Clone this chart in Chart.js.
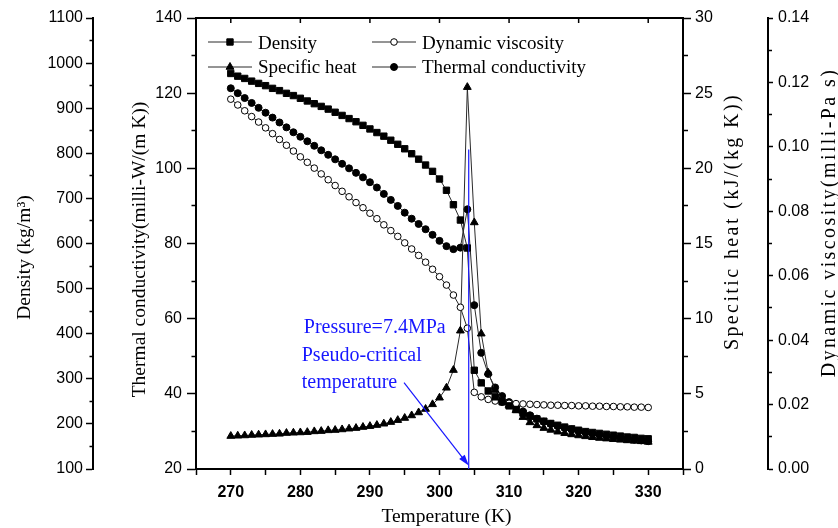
<!DOCTYPE html>
<html>
<head>
<meta charset="utf-8">
<script src="https://cdn.jsdelivr.net/npm/chart.js@4.4.1/dist/chart.umd.min.js"></script>
<style>
  html, body { margin: 0; padding: 0; background: #fff; }
  #wrap { width: 838px; height: 528px; }
</style>
</head>
<body>
<div id="wrap"><canvas id="chart" width="838" height="528"></canvas></div>
<script>
// CO2 at 7.4 MPa, one point per kelvin
const temperature = [
  270, 271, 272, 273, 274, 275, 276, 277, 278, 279,
  280, 281, 282, 283, 284, 285, 286, 287, 288, 289,
  290, 291, 292, 293, 294, 295, 296, 297, 298, 299,
  300, 301, 302, 303, 304, 305, 306, 307, 308, 309,
  310, 311, 312, 313, 314, 315, 316, 317, 318, 319,
  320, 321, 322, 323, 324, 325, 326, 327, 328, 329,
  330
];
// kg/m3
const density = [
  977, 971, 966, 960, 955, 950, 944, 939, 933, 928,
  922, 916, 910, 904, 898, 891, 884, 877, 870, 862,
  854, 846, 838, 829, 820, 810, 799, 787, 774, 760,
  743, 718, 686, 652, 590, 319, 291, 273, 260, 249,
  240, 232, 224, 217, 211, 206, 201, 197, 193, 189,
  186, 183, 181, 179, 177, 175, 173, 171, 170, 168,
  167
];
// milli-Pa s
const viscosity = [
  0.1148, 0.1130, 0.1112, 0.1094, 0.1077, 0.1059, 0.1041, 0.1023, 0.1005, 0.0987,
  0.0969, 0.0952, 0.0934, 0.0916, 0.0898, 0.0880, 0.0862, 0.0845, 0.0827, 0.0811,
  0.0794, 0.0777, 0.0758, 0.0740, 0.0722, 0.0702, 0.0683, 0.0663, 0.0642, 0.0620,
  0.0597, 0.0571, 0.0540, 0.0502, 0.0437, 0.0238, 0.0224, 0.0216, 0.0211, 0.0207,
  0.0204, 0.0203, 0.0202, 0.0201, 0.0200, 0.0199, 0.0198, 0.0198, 0.0197, 0.0197,
  0.0196, 0.0196, 0.0195, 0.0195, 0.0194, 0.0194, 0.0193, 0.0193, 0.0192, 0.0192,
  0.0191
];
// kJ/(kg K)
const specificHeat = [
  2.19, 2.21, 2.23, 2.26, 2.28, 2.30, 2.32, 2.34, 2.39, 2.41,
  2.43, 2.45, 2.50, 2.52, 2.57, 2.59, 2.63, 2.68, 2.72, 2.79,
  2.85, 2.92, 3.01, 3.12, 3.25, 3.39, 3.56, 3.76, 3.99, 4.30,
  4.74, 5.40, 6.58, 9.20, 25.4, 16.4, 9.00, 6.40, 5.25, 4.60,
  4.25, 3.90, 3.45, 3.10, 2.90, 2.72, 2.60, 2.48, 2.38, 2.30,
  2.23, 2.17, 2.11, 2.06, 2.02, 1.98, 1.94, 1.90, 1.87, 1.84,
  1.80
];
// milli-W/(m K)
const conductivity = [
  121.3, 120.0, 118.7, 117.4, 116.1, 114.8, 113.5, 112.2, 110.9, 109.6,
  108.4, 107.2, 106.0, 104.8, 103.6, 102.4, 101.2, 100.0, 98.8, 97.6,
  96.3, 94.9, 93.2, 91.6, 90.0, 88.2, 86.6, 85.2, 83.8, 82.3,
  80.7, 79.3, 78.5, 78.9, 89.1, 63.6, 50.9, 45.3, 41.7, 39.4,
  37.8, 36.5, 35.3, 34.3, 33.4, 32.6, 32.0, 31.4, 30.9, 30.5,
  30.1, 29.7, 29.4, 29.1, 28.8, 28.5, 28.3, 28.0, 27.8, 27.6,
  27.4
];

const topTicks = [270, 280, 290, 300, 310, 320, 330];
const pseudoCritical = 304.2;   // K
const markTop = 105;            // top of blue line, on conductivity scale
const arrowFrom = [294.9, 43.0];
const arrowTo = [304.2, 20.9];
const noteLines = [
  { text: 'Pressure=7.4MPa', x: 280.5, y: 56.2 },
  { text: 'Pseudo-critical', x: 280.2, y: 48.7 },
  { text: 'temperature', x: 280.2, y: 41.5 }
];

const SANS = "'Liberation Sans', Arial, sans-serif";
const SERIF = "'Liberation Serif', 'Times New Roman', serif";
const BLUE = '#1717ff';

function yScale(pos, weight, min, max, step, isMajor, fmt, tl, minorLen, pad, width) {
  return {
    type: 'linear', position: pos, weight: weight, min: min, max: max,
    ticks: {
      stepSize: step, autoSkip: false, color: '#000', padding: pad,
      font: { family: SANS, size: 16 },
      callback: v => isMajor(v) ? fmt(v) : ''
    },
    grid: {
      drawOnChartArea: false, tickLength: tl, tickColor: '#000', tickWidth: 1.5,
      tickBorderDash: c => (!c.tick || isMajor(c.tick.value)) ? [] :
        (pos === 'left' ? [0, tl - minorLen, minorLen, 40] : [minorLen, 40])
    },
    border: { display: true, color: '#000', width: 2 },
    afterFit: s => { s.width = width; }
  };
}

function dataset(label, values, axis, style, radius, fill) {
  return {
    label: label,
    yAxisID: axis,
    data: temperature.map((t, i) => ({ x: t, y: values[i] })),
    borderColor: '#2a2a2a', borderWidth: 1, tension: 0,
    pointStyle: style, pointRadius: radius, pointHoverRadius: radius,
    pointBackgroundColor: fill, pointBorderColor: '#000', pointBorderWidth: 1
  };
}

function drawMarker(ctx, style, r, fill, x, y) {
  ctx.save();
  ctx.fillStyle = fill;
  ctx.strokeStyle = '#000';
  ctx.lineWidth = 1;
  ctx.beginPath();
  if (style === 'rect') {
    const s = r * Math.SQRT1_2;
    ctx.rect(x - s, y - s, 2 * s, 2 * s);
  } else if (style === 'triangle') {
    for (let k = 0; k < 3; k++) {
      const a = k * 2 * Math.PI / 3;
      const px = x + Math.sin(a) * r, py = y - Math.cos(a) * r;
      if (k === 0) ctx.moveTo(px, py); else ctx.lineTo(px, py);
    }
    ctx.closePath();
  } else {
    ctx.arc(x, y, r, 0, Math.PI * 2);
  }
  ctx.fill();
  ctx.stroke();
  ctx.restore();
}

function vText(ctx, text, x, y, size, spacing) {
  ctx.save();
  ctx.translate(x, y);
  ctx.rotate(-Math.PI / 2);
  ctx.font = size + 'px ' + SERIF;
  ctx.fillStyle = '#000';
  ctx.textAlign = 'center';
  ctx.textBaseline = 'middle';
  if (spacing) ctx.letterSpacing = spacing;
  ctx.fillText(text, 0, 0);
  ctx.restore();
}

const decor = {
  id: 'decor',
  afterDatasetsDraw(chart) {
    const ctx = chart.ctx, xs = chart.scales.x, ys = chart.scales.yTC;
    ctx.save();
    ctx.strokeStyle = BLUE;
    ctx.fillStyle = BLUE;
    ctx.lineWidth = 1.2;
    // pseudo-critical line
    const lx = xs.getPixelForValue(pseudoCritical);
    ctx.beginPath();
    ctx.moveTo(lx, ys.getPixelForValue(markTop));
    ctx.lineTo(lx, chart.chartArea.bottom);
    ctx.stroke();
    // arrow
    const x1 = xs.getPixelForValue(arrowFrom[0]), y1 = ys.getPixelForValue(arrowFrom[1]);
    const x2 = xs.getPixelForValue(arrowTo[0]), y2 = ys.getPixelForValue(arrowTo[1]);
    const ang = Math.atan2(y2 - y1, x2 - x1);
    ctx.beginPath();
    ctx.moveTo(x1, y1);
    ctx.lineTo(x2 - Math.cos(ang) * 8, y2 - Math.sin(ang) * 8);
    ctx.stroke();
    ctx.beginPath();
    ctx.moveTo(x2, y2);
    ctx.lineTo(x2 - Math.cos(ang) * 11 + Math.sin(ang) * 3.5, y2 - Math.sin(ang) * 11 - Math.cos(ang) * 3.5);
    ctx.lineTo(x2 - Math.cos(ang) * 11 - Math.sin(ang) * 3.5, y2 - Math.sin(ang) * 11 + Math.cos(ang) * 3.5);
    ctx.closePath();
    ctx.fill();
    // note
    ctx.font = '20px ' + SERIF;
    ctx.textAlign = 'left';
    ctx.textBaseline = 'alphabetic';
    noteLines.forEach(n => ctx.fillText(n.text, xs.getPixelForValue(n.x), ys.getPixelForValue(n.y)));
    ctx.restore();
  },
  afterDraw(chart) {
    const ctx = chart.ctx, ca = chart.chartArea, sc = chart.scales;
    const mid = (ca.top + ca.bottom) / 2;

    // inward ticks on the top frame
    ctx.save();
    ctx.strokeStyle = '#000';
    ctx.lineWidth = 1.5;
    topTicks.forEach(v => {
      const px = sc.x.getPixelForValue(v);
      ctx.beginPath();
      ctx.moveTo(px, ca.top);
      ctx.lineTo(px, ca.top + 5);
      ctx.stroke();
    });
    ctx.restore();

    // axis titles
    vText(ctx, 'Density (kg/m\u00b3)', sc.yD.left + 25, mid + 14, 19.5);
    vText(ctx, 'Thermal conductivity(milli-W/(m K))', sc.yTC.left + 47, mid + 6, 19.5);
    vText(ctx, 'Specitic heat (kJ/(kg K))', sc.yCp.left + 50, mid - 22, 20, '2.4px');
    vText(ctx, 'Dynamic viscosity(milli-Pa s)', sc.yV.left + 62, mid - 21, 20, '2.4px');
    ctx.save();
    ctx.font = '19.5px ' + SERIF;
    ctx.fillStyle = '#000';
    ctx.textAlign = 'center';
    ctx.textBaseline = 'middle';
    ctx.fillText('Temperature (K)', (ca.left + ca.right) / 2 + 7, sc.x.bottom - 11.3);
    ctx.restore();

    // legend: two columns, two rows inside the plot
    chart.data.datasets.forEach((d, i) => {
      const lx = ca.left + (i % 2 === 0 ? 12 : 176);
      const ly = ca.top + (i < 2 ? 24 : 49);
      ctx.save();
      ctx.strokeStyle = d.borderColor;
      ctx.lineWidth = 1;
      ctx.beginPath();
      ctx.moveTo(lx, ly);
      ctx.lineTo(lx + 44, ly);
      ctx.stroke();
      ctx.restore();
      drawMarker(ctx, d.pointStyle, d.pointRadius, d.pointBackgroundColor, lx + 22, ly);
      ctx.save();
      ctx.font = '19px ' + SERIF;
      ctx.fillStyle = '#000';
      ctx.textAlign = 'left';
      ctx.textBaseline = 'alphabetic';
      ctx.fillText(d.label, lx + 50, ly + (i < 2 ? 7 : 6));
      ctx.restore();
    });
  }
};

const chart = new Chart(document.getElementById('chart'), {
  type: 'line',
  data: {
    datasets: [
      dataset('Density', density, 'yD', 'rect', 4.5, '#000'),
      dataset('Dynamic viscosity', viscosity, 'yV', 'circle', 3.3, '#fff'),
      dataset('Specific heat', specificHeat, 'yCp', 'triangle', 4.5, '#000'),
      dataset('Thermal conductivity', conductivity, 'yTC', 'circle', 3.5, '#000')
    ]
  },
  options: {
    responsive: false,
    animation: false,
    layout: { padding: 0 },
    plugins: { legend: { display: false }, tooltip: { enabled: false } },
    scales: {
      x: {
        type: 'linear', position: 'bottom', min: 265, max: 335,
        ticks: {
          stepSize: 5, autoSkip: false, maxRotation: 0, color: '#000', padding: 8,
          font: { family: SANS, size: 16, weight: 'bold' },
          callback: v => (v % 10 === 0 && v >= 270 && v <= 330) ? String(v) : ''
        },
        grid: { drawOnChartArea: false, tickLength: 6, tickColor: '#000', tickWidth: 1.5 },
        border: { display: true, color: '#000', width: 2 },
        afterFit: s => { s.height = 59; }
      },
      xTop: {
        type: 'linear', position: 'top', min: 265, max: 335,
        ticks: { display: false },
        grid: { display: false },
        border: { display: true, color: '#000', width: 2 },
        afterFit: s => { s.height = 18; }
      },
      yD: yScale('left', 2, 100, 1100, 50, v => v % 100 === 0, v => String(v), 7, 3.5, 3, 93),
      yTC: yScale('left', 1, 20, 140, 10, v => v % 20 === 0, v => String(v), 9, 4.5, 5, 103),
      yCp: yScale('right', 1, 0, 30, 2.5, v => v % 5 === 0, v => String(v), 8, 4, 4, 85),
      yV: yScale('right', 2, 0, 0.14, 0.01, v => Math.round(v * 100) % 2 === 0, v => v.toFixed(2), 5, 3, 5, 70)
    }
  },
  plugins: [decor]
});
</script>
</body>
</html>
